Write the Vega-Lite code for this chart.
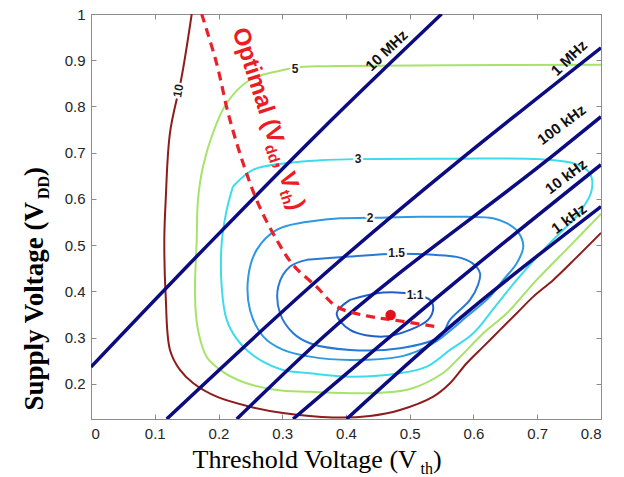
{
  "$schema": "https://vega.github.io/schema/vega-lite/v6.json",
  "width": 510,
  "height": 405,
  "autosize": {"type": "none"},
  "padding": {"left": 91, "top": 14, "right": 23, "bottom": 58},
  "background": "white",
  "config": {
    "view": {"stroke": "#8c8c8c", "strokeWidth": 1},
    "axis": {"grid": false}
  },
  "resolve": {"axis": {"x": "independent", "y": "independent"}},
  "layer": [
    {
      "data": {"values": [
        {"vth":0.158,"vdd":1.0,"level":"10"},{"vth":0.1423,"vdd":0.8649,"level":"10"},{"vth":0.1239,"vdd":0.7431,"level":"10"},{"vth":0.1172,"vdd":0.598,"level":"10"},{"vth":0.115,"vdd":0.5115,"level":"10"},{"vth":0.1172,"vdd":0.3887,"level":"10"},{"vth":0.1239,"vdd":0.2734,"level":"10"},{"vth":0.1396,"vdd":0.2301,"level":"10"},{"vth":0.1605,"vdd":0.2013,"level":"10"},{"vth":0.1972,"vdd":0.1723,"level":"10"},{"vth":0.2494,"vdd":0.1506,"level":"10"},{"vth":0.3012,"vdd":0.137,"level":"10"},{"vth":0.3796,"vdd":0.1273,"level":"10"},{"vth":0.4376,"vdd":0.1305,"level":"10"},{"vth":0.4847,"vdd":0.1435,"level":"10"},{"vth":0.5369,"vdd":0.1723,"level":"10"},{"vth":0.5631,"vdd":0.2013,"level":"10"},{"vth":0.5893,"vdd":0.2446,"level":"10"},{"vth":0.6154,"vdd":0.2805,"level":"10"},{"vth":0.6416,"vdd":0.3167,"level":"10"},{"vth":0.6678,"vdd":0.3528,"level":"10"},{"vth":0.6938,"vdd":0.3887,"level":"10"},{"vth":0.7252,"vdd":0.4249,"level":"10"},{"vth":0.7608,"vdd":0.4725,"level":"10"},{"vth":0.8,"vdd":0.5266,"level":"10"},
        {"vth":0.8,"vdd":0.8903,"level":"5"},{"vth":0.5631,"vdd":0.8892,"level":"5"},{"vth":0.3592,"vdd":0.887,"level":"5"},{"vth":0.32,"vdd":0.8838,"level":"5"},{"vth":0.2913,"vdd":0.8758,"level":"5"},{"vth":0.2494,"vdd":0.8578,"level":"5"},{"vth":0.2129,"vdd":0.8074,"level":"5"},{"vth":0.1914,"vdd":0.7431,"level":"5"},{"vth":0.1757,"vdd":0.6701,"level":"5"},{"vth":0.1678,"vdd":0.598,"level":"5"},{"vth":0.1658,"vdd":0.5115,"level":"5"},{"vth":0.1631,"vdd":0.3887,"level":"5"},{"vth":0.1678,"vdd":0.3167,"level":"5"},{"vth":0.1815,"vdd":0.2582,"level":"5"},{"vth":0.2071,"vdd":0.2258,"level":"5"},{"vth":0.2384,"vdd":0.2041,"level":"5"},{"vth":0.2913,"vdd":0.1868,"level":"5"},{"vth":0.3435,"vdd":0.1831,"level":"5"},{"vth":0.4325,"vdd":0.1797,"level":"5"},{"vth":0.5004,"vdd":0.189,"level":"5"},{"vth":0.5522,"vdd":0.2236,"level":"5"},{"vth":0.5788,"vdd":0.2582,"level":"5"},{"vth":0.6154,"vdd":0.3095,"level":"5"},{"vth":0.6521,"vdd":0.3528,"level":"5"},{"vth":0.6991,"vdd":0.4249,"level":"5"},{"vth":0.7514,"vdd":0.4985,"level":"5"},{"vth":0.8,"vdd":0.5677,"level":"5"},
        {"vth":0.2227,"vdd":0.6268,"level":"3"},{"vth":0.2541,"vdd":0.663,"level":"3"},{"vth":0.307,"vdd":0.6775,"level":"3"},{"vth":0.3592,"vdd":0.6835,"level":"3"},{"vth":0.4188,"vdd":0.6861,"level":"3"},{"vth":0.5631,"vdd":0.6868,"level":"3"},{"vth":0.7043,"vdd":0.6861,"level":"3"},{"vth":0.7561,"vdd":0.6775,"level":"3"},{"vth":0.7776,"vdd":0.663,"level":"3"},{"vth":0.7854,"vdd":0.6457,"level":"3"},{"vth":0.7843,"vdd":0.6132,"level":"3"},{"vth":0.767,"vdd":0.5721,"level":"3"},{"vth":0.7462,"vdd":0.5403,"level":"3"},{"vth":0.7247,"vdd":0.5115,"level":"3"},{"vth":0.6678,"vdd":0.4249,"level":"3"},{"vth":0.6337,"vdd":0.3665,"level":"3"},{"vth":0.5997,"vdd":0.3095,"level":"3"},{"vth":0.5631,"vdd":0.2734,"level":"3"},{"vth":0.5266,"vdd":0.2372,"level":"3"},{"vth":0.4847,"vdd":0.2229,"level":"3"},{"vth":0.4063,"vdd":0.2156,"level":"3"},{"vth":0.3435,"vdd":0.2229,"level":"3"},{"vth":0.3012,"vdd":0.2301,"level":"3"},{"vth":0.2651,"vdd":0.2517,"level":"3"},{"vth":0.2337,"vdd":0.2879,"level":"3"},{"vth":0.2129,"vdd":0.3383,"level":"3"},{"vth":0.205,"vdd":0.4104,"level":"3"},{"vth":0.205,"vdd":0.5043,"level":"3"},{"vth":0.2129,"vdd":0.5764,"level":"3"},{"vth":0.2227,"vdd":0.6268,"level":"3"},
        {"vth":0.3435,"vdd":0.5511,"level":"2"},{"vth":0.3906,"vdd":0.558,"level":"2"},{"vth":0.4376,"vdd":0.5591,"level":"2"},{"vth":0.5161,"vdd":0.5613,"level":"2"},{"vth":0.5893,"vdd":0.5613,"level":"2"},{"vth":0.6306,"vdd":0.5584,"level":"2"},{"vth":0.6521,"vdd":0.5476,"level":"2"},{"vth":0.6698,"vdd":0.5288,"level":"2"},{"vth":0.6781,"vdd":0.497,"level":"2"},{"vth":0.6678,"vdd":0.461,"level":"2"},{"vth":0.6467,"vdd":0.4249,"level":"2"},{"vth":0.6259,"vdd":0.3887,"level":"2"},{"vth":0.5893,"vdd":0.3455,"level":"2"},{"vth":0.5427,"vdd":0.2929,"level":"2"},{"vth":0.5161,"vdd":0.2734,"level":"2"},{"vth":0.4847,"vdd":0.2589,"level":"2"},{"vth":0.4063,"vdd":0.2517,"level":"2"},{"vth":0.3435,"vdd":0.2589,"level":"2"},{"vth":0.3016,"vdd":0.2734,"level":"2"},{"vth":0.2703,"vdd":0.3022,"level":"2"},{"vth":0.2494,"vdd":0.36,"level":"2"},{"vth":0.2467,"vdd":0.432,"level":"2"},{"vth":0.2599,"vdd":0.4898,"level":"2"},{"vth":0.2913,"vdd":0.5331,"level":"2"},{"vth":0.3435,"vdd":0.5511,"level":"2"},
        {"vth":0.3384,"vdd":0.4682,"level":"1.5"},{"vth":0.4063,"vdd":0.4753,"level":"1.5"},{"vth":0.4795,"vdd":0.4812,"level":"1.5"},{"vth":0.5369,"vdd":0.479,"level":"1.5"},{"vth":0.5736,"vdd":0.4747,"level":"1.5"},{"vth":0.5976,"vdd":0.4617,"level":"1.5"},{"vth":0.6102,"vdd":0.4394,"level":"1.5"},{"vth":0.6071,"vdd":0.4141,"level":"1.5"},{"vth":0.5945,"vdd":0.3816,"level":"1.5"},{"vth":0.5631,"vdd":0.3383,"level":"1.5"},{"vth":0.5475,"vdd":0.3022,"level":"1.5"},{"vth":0.4847,"vdd":0.2771,"level":"1.5"},{"vth":0.4063,"vdd":0.2734,"level":"1.5"},{"vth":0.3435,"vdd":0.2879,"level":"1.5"},{"vth":0.3173,"vdd":0.3095,"level":"1.5"},{"vth":0.2965,"vdd":0.3528,"level":"1.5"},{"vth":0.2938,"vdd":0.4104,"level":"1.5"},{"vth":0.3122,"vdd":0.4537,"level":"1.5"},{"vth":0.3384,"vdd":0.4682,"level":"1.5"},
        {"vth":0.4063,"vdd":0.3816,"level":"1.1"},{"vth":0.4585,"vdd":0.3974,"level":"1.1"},{"vth":0.5109,"vdd":0.3924,"level":"1.1"},{"vth":0.5318,"vdd":0.3816,"level":"1.1"},{"vth":0.5369,"vdd":0.3643,"level":"1.1"},{"vth":0.5286,"vdd":0.3383,"level":"1.1"},{"vth":0.5004,"vdd":0.3167,"level":"1.1"},{"vth":0.4585,"vdd":0.3022,"level":"1.1"},{"vth":0.4063,"vdd":0.3167,"level":"1.1"},{"vth":0.3854,"vdd":0.3528,"level":"1.1"},{"vth":0.4063,"vdd":0.3816,"level":"1.1"}
      ]},
      "mark": {"type": "line", "strokeWidth": 2, "clip": true, "interpolate": "catmull-rom"},
      "encoding": {
        "x": {"field": "vth", "type": "quantitative",
          "scale": {"domain": [0, 0.8], "nice": false, "zero": false},
          "axis": {"orient": "bottom", "values": [0,0.1,0.2,0.3,0.4,0.5,0.6,0.7,0.8], "format": "~g",
            "labelFont": "Liberation Sans", "labelFontSize": 15, "labelColor": "#262626", "labelPadding": 12,
            "tickSize": -5, "tickColor": "#8c8c8c", "domainColor": "#8c8c8c",
            "title": "Threshold Voltage (V", "titleFont": "Liberation Serif", "titleFontSize": 26, "titleFontWeight": "normal", "titleColor": "black",
            "titleX": 101, "titleY": 48, "titleAlign": "left", "titleBaseline": "alphabetic", "titleAngle": 0}},
        "y": {"field": "vdd", "type": "quantitative",
          "scale": {"domain": [0.124, 1], "nice": false, "zero": false},
          "axis": {"orient": "left", "values": [0.2,0.3,0.4,0.5,0.6,0.7,0.8,0.9,1], "format": "~g",
            "labelFont": "Liberation Sans", "labelFontSize": 15, "labelColor": "#262626", "labelPadding": 11,
            "tickSize": -5, "tickColor": "#8c8c8c", "domainColor": "#8c8c8c",
            "title": "Supply Voltage (V", "titleFont": "Liberation Serif", "titleFontSize": 27, "titleFontWeight": "bold", "titleColor": "black",
            "titleX": -49, "titleY": 396, "titleAlign": "left", "titleBaseline": "alphabetic", "titleAngle": 270}},
        "color": {"field": "level", "type": "nominal",
          "scale": {"domain": ["10","5","3","2","1.5","1.1"], "range": ["#8e1c1c","#a6e36a","#3cdcec","#2f98e2","#2878d6","#1f5fcb"]},
          "legend": null},
        "order": {"value": null}
      }
    },
    {
      "data": {"values": [
        {"vth":0,"vdd":0.2366,"f":"10 MHz"},{"vth":0.191,"vdd":0.5115,"f":"10 MHz"},{"vth":0.359,"vdd":0.746,"f":"10 MHz"},{"vth":0.55,"vdd":1.0,"f":"10 MHz"},
        {"vth":0.1187,"vdd":0.124,"f":"1 MHz"},{"vth":0.3435,"vdd":0.41,"f":"1 MHz"},{"vth":0.8,"vdd":0.927,"f":"1 MHz"},
        {"vth":0.2286,"vdd":0.124,"f":"100 kHz"},{"vth":0.359,"vdd":0.295,"f":"100 kHz"},{"vth":0.7357,"vdd":0.706,"f":"100 kHz"},{"vth":0.8,"vdd":0.778,"f":"100 kHz"},
        {"vth":0.317,"vdd":0.124,"f":"10 kHz"},{"vth":0.5633,"vdd":0.4104,"f":"10 kHz"},{"vth":0.8,"vdd":0.674,"f":"10 kHz"},
        {"vth":0.401,"vdd":0.124,"f":"1 kHz"},{"vth":0.5633,"vdd":0.3238,"f":"1 kHz"},{"vth":0.8,"vdd":0.5836,"f":"1 kHz"}
      ]},
      "mark": {"type": "line", "strokeWidth": 3.5, "color": "#0c0c82", "clip": true, "interpolate": "monotone"},
      "encoding": {
        "x": {"field": "vth", "type": "quantitative", "scale": {"domain": [0, 0.8], "nice": false, "zero": false},
          "axis": {"orient": "bottom", "labels": false, "ticks": false, "domain": false,
            "title": "th", "titleFont": "Liberation Serif", "titleFontSize": 16, "titleFontWeight": "normal", "titleColor": "black",
            "titleX": 329, "titleY": 54, "titleAlign": "left", "titleBaseline": "alphabetic", "titleAngle": 0}},
        "y": {"field": "vdd", "type": "quantitative", "scale": {"domain": [0.124, 1], "nice": false, "zero": false},
          "axis": {"orient": "left", "labels": false, "ticks": false, "domain": false,
            "title": "DD", "titleFont": "Liberation Serif", "titleFontSize": 16, "titleFontWeight": "bold", "titleColor": "black",
            "titleX": -43, "titleY": 184.5, "titleAlign": "left", "titleBaseline": "alphabetic", "titleAngle": 270}},
        "detail": {"field": "f", "type": "nominal"},
        "order": {"value": null}
      }
    },
    {
      "data": {"values": [
        {"vth":0.1736,"vdd":1.0},{"vth":0.1972,"vdd":0.8924},{"vth":0.2154,"vdd":0.7842},{"vth":0.2389,"vdd":0.676},{"vth":0.2624,"vdd":0.5894},{"vth":0.2913,"vdd":0.5115},{"vth":0.3169,"vdd":0.4574},{"vth":0.354,"vdd":0.4097},{"vth":0.3854,"vdd":0.3671},{"vth":0.4325,"vdd":0.347},{"vth":0.4742,"vdd":0.3383},{"vth":0.5475,"vdd":0.3225}
      ]},
      "mark": {"type": "line", "strokeWidth": 3.2, "color": "#e8212b", "strokeDash": [9, 6], "clip": true, "interpolate": "catmull-rom"},
      "encoding": {
        "x": {"field": "vth", "type": "quantitative", "scale": {"domain": [0, 0.8], "nice": false, "zero": false},
          "axis": {"orient": "bottom", "labels": false, "ticks": false, "domain": false,
            "title": ")", "titleFont": "Liberation Serif", "titleFontSize": 26, "titleFontWeight": "normal", "titleColor": "black",
            "titleX": 341.5, "titleY": 48, "titleAlign": "left", "titleBaseline": "alphabetic", "titleAngle": 0}},
        "y": {"field": "vdd", "type": "quantitative", "scale": {"domain": [0.124, 1], "nice": false, "zero": false},
          "axis": {"orient": "left", "labels": false, "ticks": false, "domain": false,
            "title": ")", "titleFont": "Liberation Serif", "titleFontSize": 27, "titleFontWeight": "bold", "titleColor": "black",
            "titleX": -49, "titleY": 161.4, "titleAlign": "left", "titleBaseline": "alphabetic", "titleAngle": 270}},
        "order": {"value": null}
      }
    },
    {
      "data": {"values": [{"vth": 0.47, "vdd": 0.349}]},
      "mark": {"type": "point", "filled": true, "size": 110, "color": "#e3101c", "opacity": 1},
      "encoding": {
        "x": {"field": "vth", "type": "quantitative", "scale": {"domain": [0, 0.8], "nice": false, "zero": false},
          "axis": {"orient": "top", "labels": false, "title": null, "values": [0,0.1,0.2,0.3,0.4,0.5,0.6,0.7,0.8],
            "tickSize": -5, "tickColor": "#8c8c8c", "domainColor": "#8c8c8c"}},
        "y": {"field": "vdd", "type": "quantitative", "scale": {"domain": [0.124, 1], "nice": false, "zero": false},
          "axis": {"orient": "right", "labels": false, "title": null, "values": [0.2,0.3,0.4,0.5,0.6,0.7,0.8,0.9,1],
            "tickSize": -5, "tickColor": "#8c8c8c", "domainColor": "#8c8c8c"}}
      }
    },
    {
      "data": {"values": [
        {"vth":0.4638,"vdd":0.921,"label":"10 MHz"},{"vth":0.7498,"vdd":0.9048,"label":"1 MHz"}
      ]},
      "mark": {"type": "text", "font": "Liberation Sans", "fontWeight": "bold", "fontSize": 15, "color": "#111111", "angle": 316, "align": "center", "baseline": "middle"},
      "encoding": {
        "x": {"field": "vth", "type": "quantitative", "axis": null},
        "y": {"field": "vdd", "type": "quantitative", "axis": null},
        "text": {"field": "label"}
      }
    },
    {
      "data": {"values": [
        {"vth":0.7383,"vdd":0.7604,"label":"100 kHz"},{"vth":0.7451,"vdd":0.6485,"label":"10 kHz"},{"vth":0.7498,"vdd":0.557,"label":"1 kHz"}
      ]},
      "mark": {"type": "text", "font": "Liberation Sans", "fontWeight": "bold", "fontSize": 15, "color": "#111111", "angle": 323, "align": "center", "baseline": "middle"},
      "encoding": {
        "x": {"field": "vth", "type": "quantitative", "axis": null},
        "y": {"field": "vdd", "type": "quantitative", "axis": null},
        "text": {"field": "label"}
      }
    },
    {
      "data": {"values": [
        {"vth":0.32,"vdd":0.8816,"label":"5"},{"vth":0.4188,"vdd":0.6861,"label":"3"},{"vth":0.4376,"vdd":0.5591,"label":"2"},{"vth":0.4795,"vdd":0.4827,"label":"1.5"},{"vth":0.5082,"vdd":0.3924,"label":"1.1"}
      ]},
      "mark": {"type": "text", "font": "Liberation Sans", "fontWeight": "bold", "fontSize": 12, "fill": "white", "stroke": "white", "strokeWidth": 4, "align": "center", "baseline": "middle"},
      "encoding": {
        "x": {"field": "vth", "type": "quantitative", "axis": null},
        "y": {"field": "vdd", "type": "quantitative", "axis": null},
        "text": {"field": "label"}
      }
    },
    {
      "data": {"values": [
        {"vth":0.32,"vdd":0.8816,"label":"5"},{"vth":0.4188,"vdd":0.6861,"label":"3"},{"vth":0.4376,"vdd":0.5591,"label":"2"},{"vth":0.4795,"vdd":0.4827,"label":"1.5"},{"vth":0.5082,"vdd":0.3924,"label":"1.1"}
      ]},
      "mark": {"type": "text", "font": "Liberation Sans", "fontWeight": "bold", "fontSize": 12, "color": "#1a1a1a", "align": "center", "baseline": "middle"},
      "encoding": {
        "x": {"field": "vth", "type": "quantitative", "axis": null},
        "y": {"field": "vdd", "type": "quantitative", "axis": null},
        "text": {"field": "label"}
      }
    },
    {
      "data": {"values": [{"vth":0.137,"vdd":0.834,"label":"10"}]},
      "mark": {"type": "text", "font": "Liberation Sans", "fontWeight": "bold", "fontSize": 12, "fill": "white", "stroke": "white", "strokeWidth": 4, "angle": 280, "align": "center", "baseline": "middle"},
      "encoding": {
        "x": {"field": "vth", "type": "quantitative", "axis": null},
        "y": {"field": "vdd", "type": "quantitative", "axis": null},
        "text": {"field": "label"}
      }
    },
    {
      "data": {"values": [{"vth":0.137,"vdd":0.834,"label":"10"}]},
      "mark": {"type": "text", "font": "Liberation Sans", "fontWeight": "bold", "fontSize": 12, "color": "#1a1a1a", "angle": 280, "align": "center", "baseline": "middle"},
      "encoding": {
        "x": {"field": "vth", "type": "quantitative", "axis": null},
        "y": {"field": "vdd", "type": "quantitative", "axis": null},
        "text": {"field": "label"}
      }
    },
    {
      "data": {"values": [
        {"vth":0.2215,"vdd":0.9639,"label":"Optimal (V"},{"vth":0.2885,"vdd":0.679,"label":", V"},{"vth":0.3096,"vdd":0.5894,"label":")"}
      ]},
      "mark": {"type": "text", "font": "Liberation Sans", "fontWeight": "bold", "fontSize": 24, "color": "#ec1c24", "angle": 72, "align": "left", "baseline": "alphabetic"},
      "encoding": {
        "x": {"field": "vth", "type": "quantitative", "axis": null},
        "y": {"field": "vdd", "type": "quantitative", "axis": null},
        "text": {"field": "label"}
      }
    },
    {
      "data": {"values": [
        {"vth":0.2723,"vdd":0.7132,"label":"dd"},{"vth":0.2954,"vdd":0.6152,"label":"th"}
      ]},
      "mark": {"type": "text", "font": "Liberation Sans", "fontWeight": "bold", "fontSize": 15, "color": "#ec1c24", "angle": 72, "align": "left", "baseline": "alphabetic"},
      "encoding": {
        "x": {"field": "vth", "type": "quantitative", "axis": null},
        "y": {"field": "vdd", "type": "quantitative", "axis": null},
        "text": {"field": "label"}
      }
    }
  ]
}
